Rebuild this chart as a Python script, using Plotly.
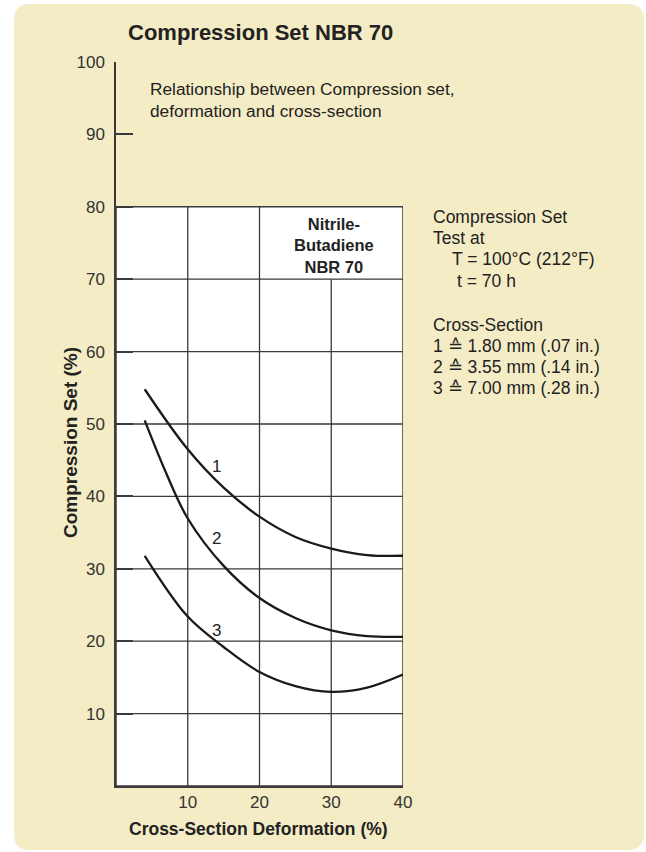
import plotly.graph_objects as go

# ---- data ----
deform_1 = [4, 10, 15, 20, 25, 30, 35, 40]
cset_1 = [54.8, 46.5, 41.2, 37.2, 34.4, 32.8, 31.9, 31.8]
deform_2 = [4, 7, 10, 15, 20, 25, 30, 35, 40]
cset_2 = [50.5, 43.2, 36.95, 30.4, 25.96, 23.2, 21.5, 20.7, 20.6]
deform_3 = [4, 10, 15, 20, 25, 30, 35, 40]
cset_3 = [31.8, 23.4, 19.2, 15.75, 13.8, 13.0, 13.6, 15.4]
curve_labels = ["1", "2", "3"]
x_ticks = [10, 20, 30, 40]
y_ticks = [10, 20, 30, 40, 50, 60, 70, 80, 90, 100]

FONT = "Arial, 'Liberation Sans', Helvetica, sans-serif"
BEIGE = "#F4ECC5"
GRID = "#3a3a3a"
TXT = "#222222"

fig = go.Figure()
for xs, ys in [(deform_1, cset_1), (deform_2, cset_2), (deform_3, cset_3)]:
    fig.add_trace(go.Scatter(x=xs, y=ys, mode="lines",
                             line=dict(color="#1a1a1a", width=2.3, shape="spline", smoothing=1.0),
                             hoverinfo="skip", showlegend=False))

# ---- background panel (rounded) in paper coords ----
# plot area: x 116..403 px, y 62..786 px
def px_x(p):
    return (p - 116) / 287.0

def px_y(p):
    return (786 - p) / 724.0

L, R, T, B = px_x(14), px_x(644), px_y(4), px_y(850)
rx, ry = 16 / 287.0, 16 / 724.0
panel = (f"M {L+rx},{T} L {R-rx},{T} Q {R},{T} {R},{T-ry} L {R},{B+ry} Q {R},{B} {R-rx},{B} "
         f"L {L+rx},{B} Q {L},{B} {L},{B+ry} L {L},{T-ry} Q {L},{T} {L+rx},{T} Z")
shapes = [dict(type="path", path=panel, xref="paper", yref="paper", fillcolor=BEIGE,
               line=dict(width=0), layer="below")]
# white chart box
shapes.append(dict(type="rect", xref="x", yref="y", x0=0, x1=40, y0=0, y1=80,
                   fillcolor="white", line=dict(color=GRID, width=1.5), layer="below"))
# grid lines
gl = dict(color=GRID, width=1.3)
for xv in [10, 20]:
    shapes.append(dict(type="line", xref="x", yref="y", x0=xv, x1=xv, y0=0, y1=80, line=gl, layer="below"))
shapes.append(dict(type="line", xref="x", yref="y", x0=30, x1=30, y0=0, y1=70, line=gl, layer="below"))
for yv in [10, 20, 30, 40, 50, 60, 70]:
    shapes.append(dict(type="line", xref="x", yref="y", x0=0, x1=40, y0=yv, y1=yv, line=gl, layer="below"))

ann = []
# curve labels
for lab, yv in zip(curve_labels, [44.1, 34.2, 21.5]):
    ann.append(dict(x=14, y=yv, xref="x", yref="y", text=lab, showarrow=False,
                    xanchor="center", yanchor="middle",
                    font=dict(family=FONT, size=17, color=TXT)))
# material label
ann.append(dict(x=30.4, y=74.7, xref="x", yref="y", text="<b>Nitrile-<br>Butadiene<br>NBR 70</b>",
                xanchor="center", yanchor="middle",
                showarrow=False, font=dict(family=FONT, size=16.5, color=TXT), align="center"))
# subtitle
ann.append(dict(x=px_x(148), y=px_y(100.5), xref="paper", yref="paper", xanchor="left", yanchor="middle",
                text="Relationship between Compression set,<br>deformation and cross-section",
                align="left", showarrow=False, font=dict(family=FONT, size=17.3, color=TXT)))
# right info block
info = [("Compression Set", 431, 217), ("Test at", 431, 238),
        ("T = 100°C (212°F)", 450, 259), ("t = 70 h", 455, 281),
        ("Cross-Section", 431, 325), ("1 \u2259 1.80 mm (.07 in.)", 431, 346),
        ("2 \u2259 3.55 mm (.14 in.)", 431, 367), ("3 \u2259 7.00 mm (.28 in.)", 431, 388)]
for t, xp, yp in info:
    ann.append(dict(x=px_x(xp), y=px_y(yp), xref="paper", yref="paper", xanchor="left", yanchor="middle",
                    text=t, showarrow=False, font=dict(family=FONT, size=17.5, color=TXT)))
# axis titles
ann.append(dict(x=px_x(258), y=px_y(829), xref="paper", yref="paper", text="<b>Cross-Section Deformation (%)</b>",
                xanchor="center", yanchor="middle",
                showarrow=False, font=dict(family=FONT, size=17.5, color=TXT)))
ann.append(dict(x=px_x(70), y=px_y(443), xref="paper", yref="paper", text="<b>Compression Set (%)</b>",
                xanchor="center", yanchor="middle",
                textangle=-90, showarrow=False, font=dict(family=FONT, size=19, color=TXT)))
# title
ann.append(dict(x=px_x(260), y=px_y(32), xref="paper", yref="paper", text="<b>Compression Set NBR 70</b>",
                xanchor="center", yanchor="middle",
                showarrow=False, font=dict(family=FONT, size=22, color=TXT)))

fig.update_layout(
    width=646, height=852,
    margin=dict(l=116, r=243, t=62, b=66),
    paper_bgcolor="white", plot_bgcolor="rgba(0,0,0,0)",
    shapes=shapes, annotations=ann, showlegend=False,
    xaxis=dict(range=[0, 40], tickvals=x_ticks, ticks="", ticklen=0, showgrid=False, zeroline=False,
               showline=True, linecolor=GRID, linewidth=1.5, ticklabelstandoff=0,
               tickfont=dict(family=FONT, size=17, color="#333")),
    yaxis=dict(range=[0, 100], tickvals=y_ticks, ticks="inside", ticklen=17, tickwidth=1.5,
               tickcolor=GRID, showgrid=False, zeroline=False, showline=True, linecolor=GRID,
               linewidth=1.5, ticklabelstandoff=6, tickfont=dict(family=FONT, size=17, color="#333")),
)
fig.write_html("out.html", config={"displayModeBar": False},
               post_script="document.body.style.margin='0';document.body.style.overflow='hidden';")
